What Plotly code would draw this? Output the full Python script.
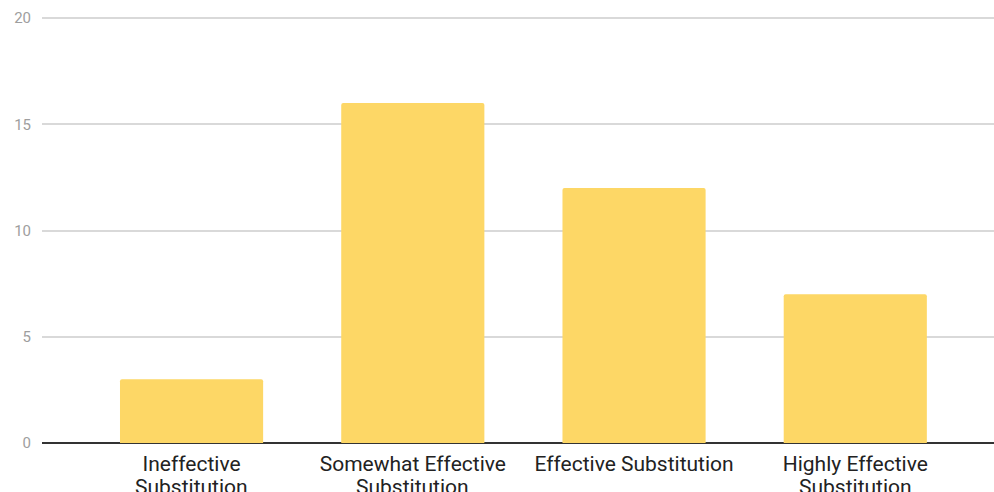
import plotly.graph_objects as go

label_line1 = ["Ineffective", "Somewhat Effective", "Effective Substitution", "Highly Effective"]
label_line2 = ["Substitution", "Substitution", "", "Substitution"]
values = [3, 16, 12, 7]
y_ticks = [0, 5, 10, 15, 20]
positions = list(range(len(values)))

fig = go.Figure(go.Bar(
    x=positions, y=values,
    marker=dict(color="#fdd766", cornerradius=2, line=dict(width=0)),
    width=0.647,
))

for xpos, txt in zip(positions, label_line2):
    if txt:
        fig.add_annotation(
            x=xpos, xref="x", y=0, yref="paper", yanchor="top",
            yshift=-30, text=txt, showarrow=False,
            font=dict(family="Roboto, Arial, sans-serif", size=21, color="#222222"),
        )

fig.update_layout(
    width=994, height=492,
    margin=dict(l=42, r=0, t=17, b=49, autoexpand=False),
    paper_bgcolor="white", plot_bgcolor="white",
    showlegend=False,
    font=dict(family="Roboto, Arial, sans-serif"),
)
fig.update_xaxes(
    range=[-0.676, 3.627], automargin=False,
    tickvals=positions, ticktext=label_line1,
    tickfont=dict(size=21, color="#222222"),
    showgrid=False, showline=False, zeroline=False, ticks="",
    ticklabelstandoff=6,
)
fig.update_yaxes(
    range=[0, 20.05], tickvals=y_ticks, automargin=False,
    tickfont=dict(size=15, color="#9e9e9e"),
    showgrid=True, gridcolor="#d9d9d9", gridwidth=1.5,
    zeroline=True, zerolinecolor="#333333", zerolinewidth=2,
    showline=False, ticks="", ticklabelstandoff=10,
)

fig.write_html("out.html", config={"displayModeBar": False},
               post_script="document.body.style.margin='0px';")
